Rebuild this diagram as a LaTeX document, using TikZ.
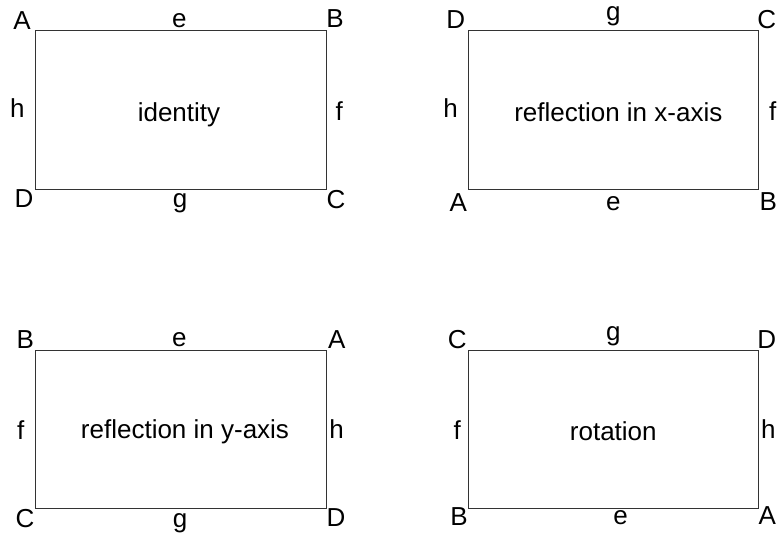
\documentclass[tikz,border=0pt]{standalone}
\usepackage{fontspec}
\setmainfont{Liberation Sans}
\begin{document}
\begin{tikzpicture}[x=1pt,y=-1pt,
  box/.style={draw=black!80,line width=1pt,minimum width=290.5pt,minimum height=158pt,inner sep=0pt},
  lab/.style={anchor=base,inner sep=0pt,font=\fontsize{26}{31}\selectfont}]
\useasboundingbox (0,0) rectangle (781,535);
% rectangles
\node[box] (r1) at (181,110) {};
\node[box] (r2) at (613.5,110) {};
\node[box] (r3) at (181,429.5) {};
\node[box] (r4) at (613.5,429.5) {};
% top-left: identity
\node[lab] (t1) at (179,121.7) {identity};
\node[lab] (a1) at (22,30) {A};
\node[lab] (e1) at (179.3,27.3) {e};
\node[lab] (b1) at (335,27.3) {B};
\node[lab] (h1) at (17.3,117.3) {h};
\node[lab] (f1) at (339.3,120.7) {f};
\node[lab] (d1) at (24,207.3) {D};
\node[lab] (g1) at (180,207.3) {g};
\node[lab] (c1) at (336,208.3) {C};
% top-right: reflection in x-axis
\node[lab] (t2) at (618.3,121.7) {reflection in x-axis};
\node[lab] (d2) at (455.7,29) {D};
\node[lab] (g2) at (613.3,21) {g};
\node[lab] (c2) at (766.7,29) {C};
\node[lab] (h2) at (450.7,117.3) {h};
\node[lab] (f2) at (772.7,120.7) {f};
\node[lab] (a2) at (458.3,211.7) {A};
\node[lab] (e2) at (613.3,210) {e};
\node[lab] (b2) at (768.3,210.7) {B};
% bottom-left: reflection in y-axis
\node[lab] (t3) at (185,438.3) {reflection in y-axis};
\node[lab] (b3) at (25.3,348.3) {B};
\node[lab] (e3) at (179.3,346.7) {e};
\node[lab] (a3) at (336.7,348.3) {A};
\node[lab] (f3) at (20.7,439.3) {f};
\node[lab] (h3) at (336.7,438.3) {h};
\node[lab] (c3) at (25,527.3) {C};
\node[lab] (g3) at (180,527.3) {g};
\node[lab] (d3) at (336,526.7) {D};
% bottom-right: rotation
\node[lab] (t4) at (613.3,440) {rotation};
\node[lab] (c4) at (457.3,348.3) {C};
\node[lab] (g4) at (613.3,340) {g};
\node[lab] (d4) at (766.7,348.3) {D};
\node[lab] (f4) at (457.3,439.3) {f};
\node[lab] (h4) at (768.3,438.3) {h};
\node[lab] (b4) at (459,525) {B};
\node[lab] (e4) at (620.7,524) {e};
\node[lab] (a4) at (767.3,524) {A};
\end{tikzpicture}
\end{document}
